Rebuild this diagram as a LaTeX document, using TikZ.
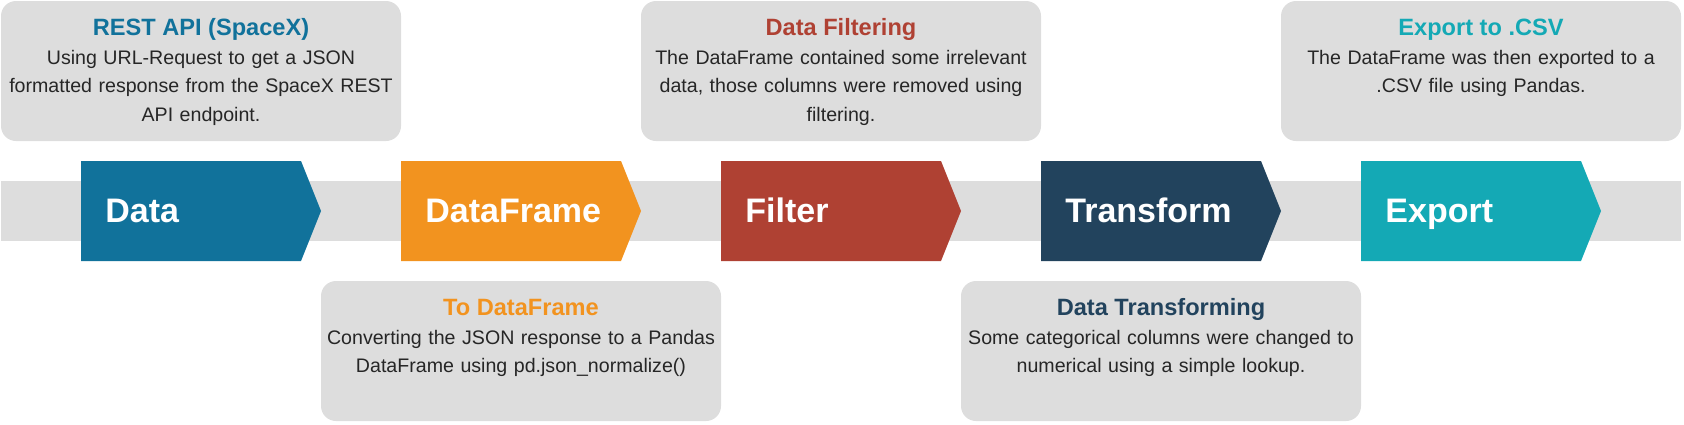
\documentclass[tikz,border=0pt]{standalone}
\usepackage{fontspec}
\setmainfont{Liberation Sans}
\usetikzlibrary{calc}
\definecolor{stepblue}{HTML}{11729B}
\definecolor{steporange}{HTML}{F2931F}
\definecolor{stepred}{HTML}{AF4133}
\definecolor{stepnavy}{HTML}{22435D}
\definecolor{stepteal}{HTML}{14A9B5}
\definecolor{boxgray}{HTML}{DDDDDD}
\def\chevron[#1](#2){\fill[#1] ($(#2)+(0,-50)$) -- ++(220,0) -- ++(20,50) -- ++(-20,50) -- ++(-220,0) -- cycle;}
\tikzset{
  infobox/.style={fill=boxgray, rounded corners=7.5pt, minimum width=200pt, minimum height=70pt, inner sep=0pt},
  infotext/.style={text width=240pt, align=center, inner sep=0pt, text=black!85, font=\fontsize{9.8}{14.3}\selectfont},
  steplabel/.style={anchor=base west, inner sep=0pt, text=white, font=\fontsize{17}{20}\selectfont\bfseries}
}
\newcommand\infotitle[2]{{\fontsize{11.8}{14.3}\selectfont\bfseries\color{#1}#2}}

\begin{document}
\begin{tikzpicture}[x=0.5pt, y=-0.5pt]
			%%%%% START %%%%%
			\useasboundingbox (0, 0) rectangle (1684, 424);
			
			\fill[boxgray] (1, 181) rectangle (1681, 241);
			
			\chevron[stepblue](81, 211);
			\node[steplabel] (data) at (105, 222) {Data};
			
			\chevron[steporange](401, 211);
			\node[steplabel] (frame) at (425, 222) {DataFrame};
			
			\chevron[stepred](721, 211);
			\node[steplabel] (filter) at (745, 222) {Filter};
			
			\chevron[stepnavy](1041, 211);
			\node[steplabel] (transform) at (1065, 222) {Transform};
			
			\chevron[stepteal](1361, 211);
			\node[steplabel] (export) at (1385, 222) {Export};
			
			\node[infobox] (restbox) at (201, 71) {};
			\node[infotext, anchor=base] (resttext) at ($(restbox.north)+(0, 35)$) {\infotitle{stepblue}{REST API (SpaceX)}\\Using URL-Request to get a JSON\\formatted response from the SpaceX REST\\API endpoint.};
			
			\node[infobox] (framebox) at (521, 351) {};
			\node[infotext, anchor=base] (frametext) at ($(framebox.north)+(0, 35)$) {\infotitle{steporange}{To DataFrame}\\Converting the JSON response to a Pandas\\DataFrame using pd.json\_normalize()};
			
			\node[infobox] (filterbox) at (841, 71) {};
			\node[infotext, anchor=base] (filtertext) at ($(filterbox.north)+(0, 35)$) {\infotitle{stepred}{Data Filtering}\\The DataFrame contained some irrelevant\\data, those columns were removed using\\filtering.};
			
			\node[infobox] (transbox) at (1161, 351) {};
			\node[infotext, anchor=base] (transtext) at ($(transbox.north)+(0, 35)$) {\infotitle{stepnavy}{Data Transforming}\\Some categorical columns were changed to\\numerical using a simple lookup.};
			
			\node[infobox] (exportbox) at (1481, 71) {};
			\node[infotext, anchor=base] (exporttext) at ($(exportbox.north)+(0, 35)$) {\infotitle{stepteal}{Export to .CSV}\\The DataFrame was then exported to a\\.CSV file using Pandas.};
			
			%%%%% END %%%%%
		\end{tikzpicture}
\end{document}
